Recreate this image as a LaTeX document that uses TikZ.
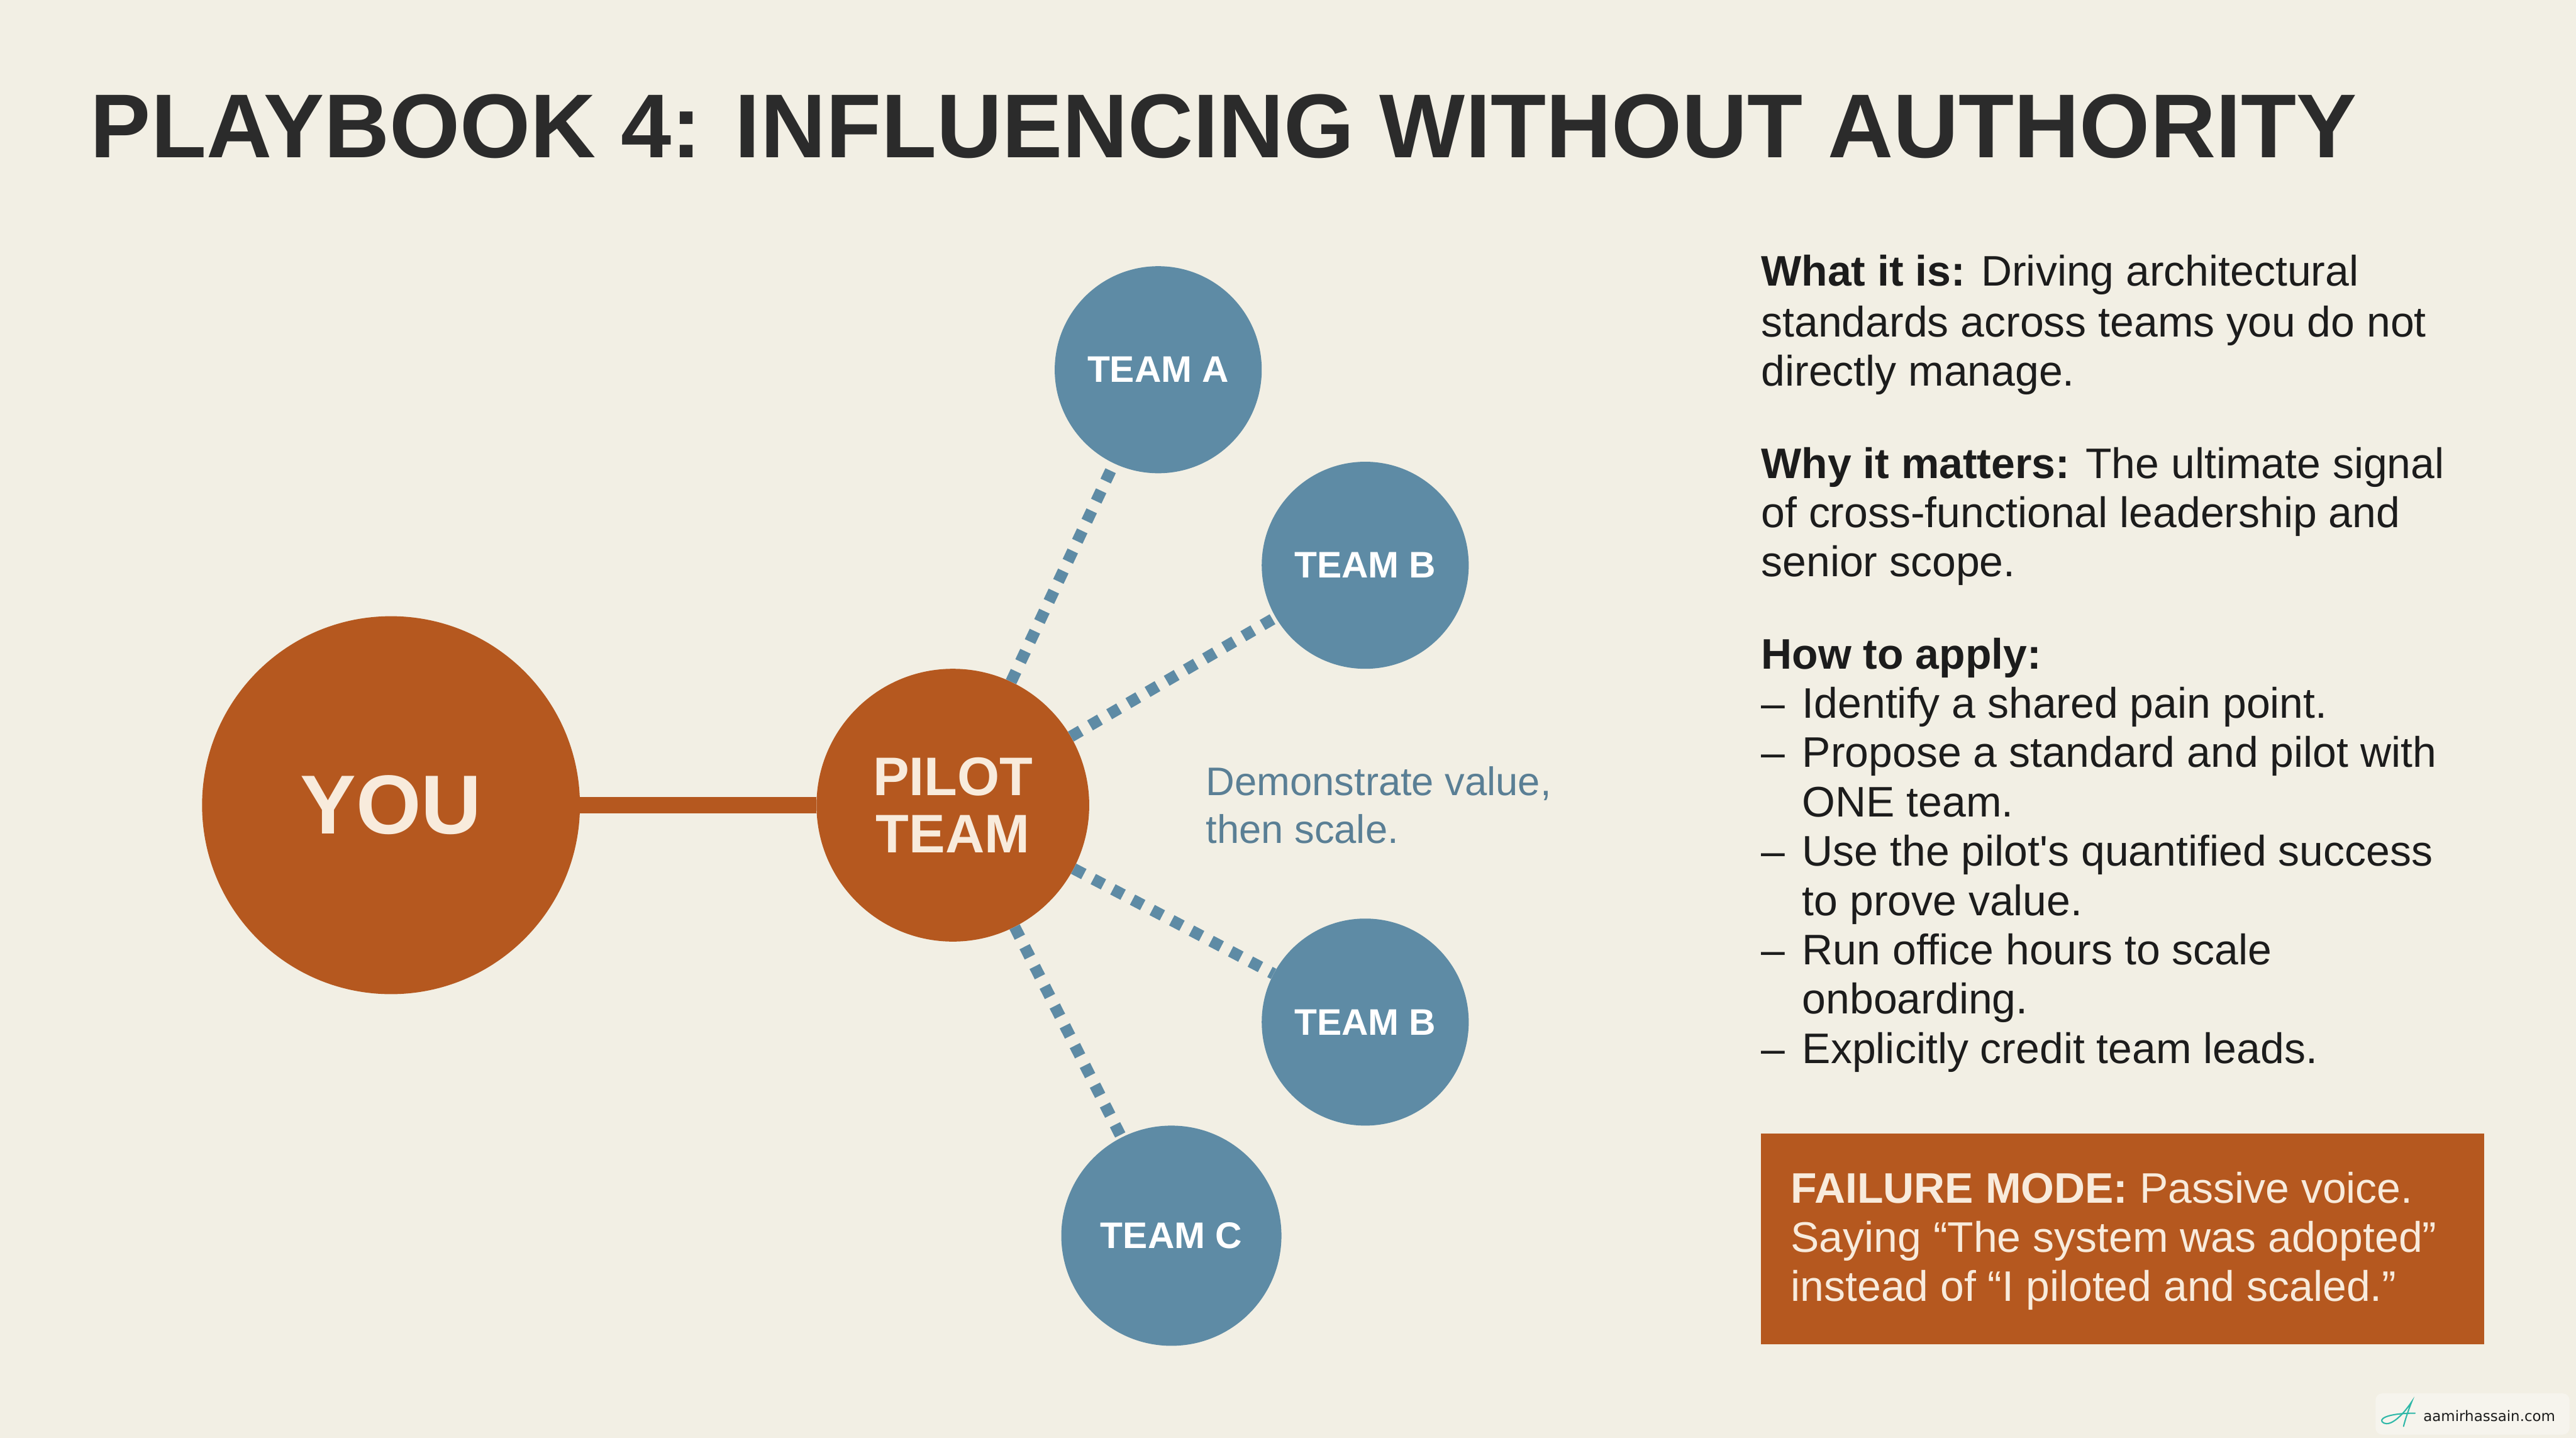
\documentclass[tikz,border=0pt]{standalone}
\usepackage{fontspec}
\setmainfont{Liberation Sans}
\newfontfamily\wmfont{DejaVu Sans}
\definecolor{bgc}{HTML}{F2EFE4}
\definecolor{titlec}{HTML}{2B2B2B}
\definecolor{bodyc}{HTML}{1C1C1C}
\definecolor{orangec}{HTML}{B5581F}
\definecolor{bluec}{HTML}{5E8BA5}
\definecolor{creamc}{HTML}{F8EBDC}
\definecolor{notec}{HTML}{5A7F95}
\definecolor{tealc}{HTML}{2FB8A8}
\tikzset{
  bigcirc/.style={circle, fill=orangec, inner sep=0pt, text=creamc, align=center},
  teamcirc/.style={circle, fill=bluec, inner sep=0pt, text=white, minimum size=126mm,
    font=\fontsize{64}{64}\selectfont\bfseries},
  teamlink/.style={draw=bluec, line width=7mm, dash pattern=on 7mm off 6.5mm},
  rtext/.style={anchor=base west, inner sep=0pt, text=bodyc, font=\fontsize{74}{85}\selectfont},
  ftext/.style={anchor=base west, inner sep=0pt, text=creamc, font=\fontsize{74}{85}\selectfont},
}
\newcommand{\rline}[3]{\node[rtext] (#1) at (1072,#2) {#3};}
\newcommand{\bline}[3]{\node[rtext] (#1d) at (1072,#2) {–}; \node[rtext] (#1) at (1097,#2) {#3};}
\begin{document}
\begin{tikzpicture}[x=1mm,y=-1mm]
\fill[bgc] (0,0) rectangle (1568,875);
\useasboundingbox (0,0) rectangle (1568,875);

% title
\node[anchor=base west, inner sep=0pt, text=titlec, font=\fontsize{157}{157}\selectfont\bfseries] (title) at (55,96) {PLAYBOOK 4: INFLUENCING WITHOUT AUTHORITY};

% circles
\node[bigcirc, minimum size=230mm, font=\fontsize{145}{145}\selectfont\bfseries] (you) at (238,490) {YOU};
\node[bigcirc, minimum size=166mm, font=\fontsize{94}{99}\selectfont\bfseries] (pilot) at (580,490) {PILOT\\TEAM};
\node[teamcirc] (ta) at (705,225) {TEAM A};
\node[teamcirc] (tb) at (831,344) {TEAM B};
\node[teamcirc] (tb2) at (831,622) {TEAM B};
\node[teamcirc, minimum size=134mm] (tc) at (713,752) {TEAM C};

% connectors
\draw[orangec, line width=10mm] (you) -- (pilot);
\draw[teamlink] (pilot) -- (ta);
\draw[teamlink] (pilot) -- (tb);
\draw[teamlink] (pilot) -- (tb2);
\draw[teamlink] (pilot) -- (tc);

% note
\node[anchor=base west, inner sep=0pt, text=notec, font=\fontsize{69}{82}\selectfont] (note1) at (734,484) {Demonstrate value,};
\node[anchor=base west, inner sep=0pt, text=notec, font=\fontsize{69}{82}\selectfont] (note2) at (734,513) {then scale.};

% right column
\rline{w1}{174}{\textbf{What it is:} Driving architectural}
\rline{w2}{205}{standards across teams you do not}
\rline{w3}{235}{directly manage.}
\rline{m1}{291}{\textbf{Why it matters:} The ultimate signal}
\rline{m2}{321}{of cross-functional leadership and}
\rline{m3}{351}{senior scope.}
\rline{h0}{407}{\textbf{How to apply:}}
\bline{b1}{437}{Identify a shared pain point.}
\bline{b2}{467}{Propose a standard and pilot with}
\rline{b2b}{497}{\hspace{25mm}ONE team.}
\bline{b3}{527}{Use the pilot\textquotesingle s quantified success}
\rline{b3b}{557}{\hspace{25mm}to prove value.}
\bline{b4}{587}{Run office hours to scale}
\rline{b4b}{617}{\hspace{25mm}onboarding.}
\bline{b5}{647}{Explicitly credit team leads.}

% failure box
\fill[orangec] (1072,690) rectangle (1512,818);
\node[ftext] (f1) at (1090,732) {\textbf{FAILURE MODE:} Passive voice.};
\node[ftext] (f2) at (1090,762) {Saying “The system was adopted”};
\node[ftext] (f3) at (1090,792) {instead of “I piloted and scaled.”};

% watermark
\fill[white, opacity=0.35, rounded corners=4mm] (1446,848) rectangle (1564,873);
\draw[tealc, line width=0.8mm, line cap=round] (1451,866) .. controls (1455,868) and (1462,862) .. (1468,853) .. controls (1466,858) and (1464,864) .. (1463,868);
\draw[tealc, line width=0.8mm, line cap=round] (1451,866) .. controls (1447,864) and (1452,860) .. (1470,860);
\node[anchor=base west, inner sep=0pt, text=bodyc, font=\wmfont\fontsize{25}{25}\selectfont] (wm) at (1475,865) {aamirhassain.com};
\end{tikzpicture}
\end{document}
